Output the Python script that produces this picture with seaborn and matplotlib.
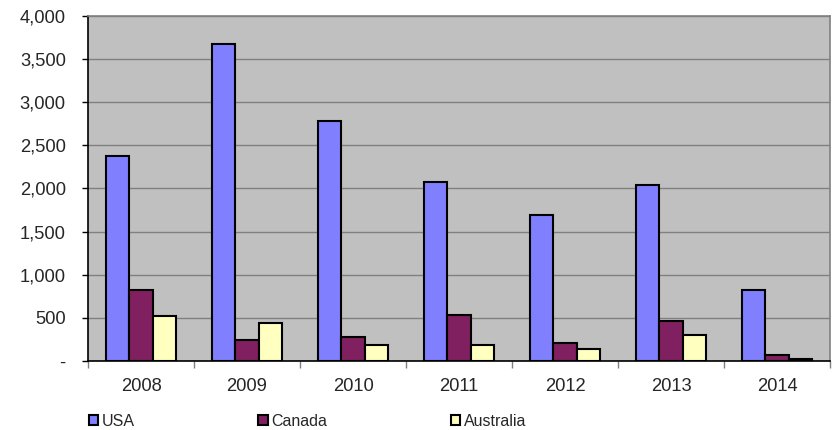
import matplotlib
matplotlib.use("Agg")
import matplotlib.pyplot as plt
import seaborn as sns
import pandas as pd
import numpy as np
from matplotlib.ticker import FuncFormatter, FixedLocator

years = ["2008", "2009", "2010", "2011", "2012", "2013", "2014"]
usa = [2380, 3680, 2780, 2080, 1690, 2040, 820]
canada = [820, 240, 280, 530, 205, 460, 70]
australia = [520, 440, 180, 180, 135, 300, 25]
series_names = ["USA", "Canada", "Australia"]
colors = {"USA": "#8080FF", "Canada": "#802060", "Australia": "#FFFFC0"}

df = pd.DataFrame({
    "year": years * 3,
    "value": usa + canada + australia,
    "series": ["USA"] * 7 + ["Canada"] * 7 + ["Australia"] * 7,
})

sns.set_style("white")
plt.rcParams['font.family'] = ['Liberation Sans', 'DejaVu Sans']

fig = plt.figure(figsize=(8.39, 4.30), dpi=100)
ax = fig.add_axes([88/839, 1-361/430, (830-88)/839, (361-16)/430])
ax.set_facecolor("#C0C0C0")

sns.barplot(data=df, x="year", y="value", hue="series", hue_order=series_names,
            order=years, palette=colors, width=0.667, edgecolor="black",
            linewidth=1.5, saturation=1, ax=ax, zorder=3)

ax.set_ylim(0, 4000)
ax.set_xlim(-0.5, 6.5)
ax.set_yticks(np.arange(0, 4001, 500))
ax.yaxis.set_major_formatter(FuncFormatter(lambda v, p: "-" if v == 0 else f"{int(v):,}"))
ax.grid(axis="y", color="#808080", linewidth=1, zorder=0)
ax.set_axisbelow(True)
ax.set_xlabel("")
ax.set_ylabel("")

for s in ["top", "right"]:
    ax.spines[s].set_color("#808080")
    ax.spines[s].set_linewidth(1.2)
for s in ["left", "bottom"]:
    ax.spines[s].set_color("black")
    ax.spines[s].set_linewidth(1.2)

ax.tick_params(axis="y", length=4.5, width=1, color="black", labelsize=13.2, pad=11.5, left=True)
ax.tick_params(axis="x", which="major", length=0, labelsize=13.2, pad=12)
ax.xaxis.set_minor_locator(FixedLocator(np.arange(-0.5, 7, 1)))
ax.tick_params(axis="x", which="minor", length=5, width=1, color="#808080", bottom=True)

handles, labels = ax.get_legend_handles_labels()
leg = ax.legend(handles, labels, loc="upper left", bbox_to_anchor=(-0.0075, -0.135),
                ncol=3, frameon=False, fontsize=11.5, handlelength=0.6,
                handleheight=0.6, handletextpad=0.2, columnspacing=7.75,
                borderaxespad=0)
for h in leg.legend_handles:
    h.set_linewidth(1.5)

fig.savefig("out.png", dpi=100)
